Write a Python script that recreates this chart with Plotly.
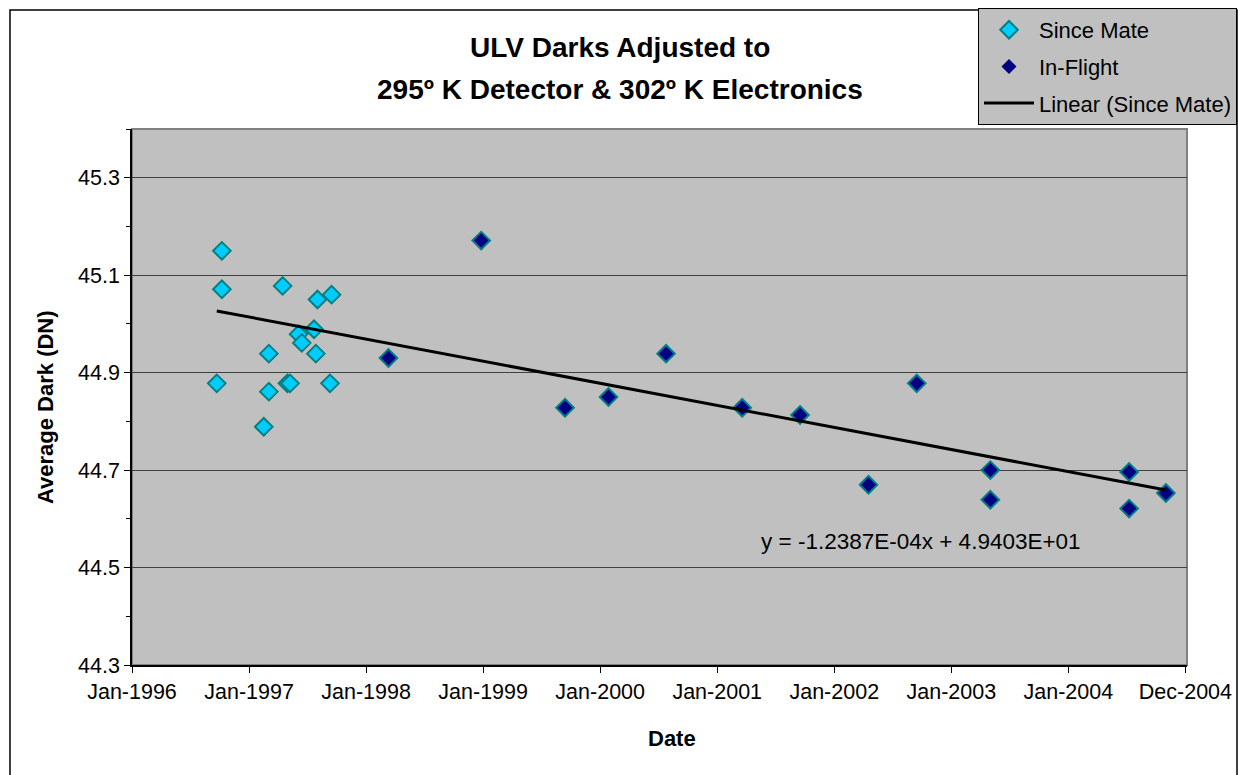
import plotly.graph_objects as go
from datetime import date, datetime

# ---------------- data ----------------
ground_dates = ["1996-09-22", "1996-10-08", "1996-10-08", "1997-02-16", "1997-03-04",
                "1997-03-04", "1997-04-16", "1997-05-01", "1997-05-09", "1997-06-05",
                "1997-06-15", "1997-07-23", "1997-07-29", "1997-08-03", "1997-09-11",
                "1997-09-16"]
ground_vals = [44.878, 45.150, 45.071, 44.789, 44.861,
               44.939, 45.078, 44.878, 44.878, 44.979,
               44.961, 44.989, 44.939, 45.050, 44.878,
               45.060]

flight_dates = ["1998-03-13", "1998-12-28", "1999-09-16", "2000-01-30", "2000-07-28",
                "2001-03-23", "2001-09-20", "2002-04-22", "2002-09-20", "2003-05-08",
                "2003-05-08", "2004-07-15", "2004-07-15", "2004-11-07"]
flight_vals = [44.930, 45.171, 44.828, 44.850, 44.939,
               44.828, 44.813, 44.670, 44.878, 44.700,
               44.639, 44.696, 44.621, 44.653]

# Excel trendline (x = Excel serial date)
trend_slope = -1.2387e-04
trend_intercept = 4.9403e+01
trend_label = "y = -1.2387E-04x + 4.9403E+01"

x_tick_dates = ["1996-01-01", "1997-01-01", "1998-01-02", "1999-01-03", "2000-01-04",
                "2001-01-04", "2002-01-05", "2003-01-06", "2004-01-07", "2005-01-07"]
x_tick_labels = ["Jan-1996", "Jan-1997", "Jan-1998", "Jan-1999", "Jan-2000",
                 "Jan-2001", "Jan-2002", "Jan-2003", "Jan-2004", "Dec-2004"]
y_tick_vals = [44.3, 44.5, 44.7, 44.9, 45.1, 45.3]
y_minor_vals = [44.4, 44.6, 44.8, 45.0, 45.2, 45.4]

title_line1 = "ULV Darks Adjusted to"
title_line2 = "295º K Detector & 302º K Electronics"

# ---------------- derived ----------------
since_dates = ground_dates + flight_dates
since_vals = ground_vals + flight_vals

EXCEL_EPOCH = date(1899, 12, 30)
def serial(d):
    return (datetime.strptime(d, "%Y-%m-%d").date() - EXCEL_EPOCH).days

d_first = min(since_dates)
d_last = max(since_dates)
trend_x = [d_first, d_last]
trend_y = [trend_intercept + trend_slope * serial(d) for d in trend_x]

# ---------------- layout geometry ----------------
W, H = 1238, 775
L, R, T, B = 132, 51, 129, 110
pw, ph = W - L - R, H - T - B

def px(xp):
    return (xp - L) / pw

def py(yp):
    return (H - B - yp) / ph

FONT = "Arial, Liberation Sans, sans-serif"
FS = 21.5

fig = go.Figure()

fig.add_trace(go.Scatter(
    x=since_dates, y=since_vals, mode="markers", name="Since Mate",
    legendgroup="a",
    marker=dict(symbol="diamond", size=13.5, color="#00CCFF",
                line=dict(color="#008080", width=2)),
))
fig.add_trace(go.Scatter(
    x=flight_dates, y=flight_vals, mode="markers", name="In-Flight",
    legendgroup="b",
    marker=dict(symbol="diamond", size=11.5, color="#000080",
                line=dict(width=0)),
))
fig.add_trace(go.Scatter(
    x=trend_x, y=trend_y, mode="lines", name="Linear (Since Mate)",
    legendgroup="c",
    line=dict(color="black", width=3),
))

fig.update_layout(
    width=W, height=H, autosize=False,
    margin=dict(l=L, r=R, t=T, b=B, autoexpand=False),
    paper_bgcolor="white",
    plot_bgcolor="#C0C0C0",
    font=dict(family=FONT, size=FS, color="black"),
    showlegend=True,
    legend=dict(
        x=px(1237), xanchor="right", y=py(8), yanchor="top",
        bgcolor="#C0C0C0", bordercolor="black", borderwidth=1,
        font=dict(family=FONT, size=22, color="black"),
        tracegroupgap=5, itemwidth=50,
    ),
    xaxis=dict(
        type="date",
        range=["1996-01-01", "2005-01-12"],
        tickmode="array", tickvals=x_tick_dates, ticktext=x_tick_labels,
        ticks="outside", ticklen=6, tickcolor="black",
        showline=True, linecolor="black", linewidth=1.5,
        showgrid=False, zeroline=False, automargin=False,
        tickfont=dict(family=FONT, size=FS),
    ),
    yaxis=dict(
        range=[44.3, 45.4],
        tickmode="array", tickvals=y_tick_vals,
        ticktext=[f"{v:.1f}" for v in y_tick_vals],
        ticks="outside", ticklen=6, tickcolor="black",
        showline=True, linecolor="black", linewidth=1.5,
        showgrid=True, gridcolor="#404040", gridwidth=1,
        zeroline=False, automargin=False,
        minor=dict(tickvals=y_minor_vals, ticks="outside", ticklen=4,
                   tickcolor="black", showgrid=False),
        tickfont=dict(family=FONT, size=FS),
    ),
    shapes=[
        # plot area border (top/right grey)
        dict(type="rect", xref="paper", yref="paper", x0=0, x1=1, y0=0, y1=1,
             line=dict(color="#808080", width=2), layer="below"),
        # outer chart frame
        dict(type="rect", xref="paper", yref="paper",
             x0=px(10), x1=px(1237), y0=py(10), y1=py(790),
             line=dict(color="black", width=1.5), layer="below"),
    ],
    annotations=[
        dict(text=f"<b>{title_line1}</b>", xref="paper", yref="paper",
             x=px(620), y=py(48), xanchor="center", yanchor="middle",
             showarrow=False, font=dict(family=FONT, size=28)),
        dict(text=f"<b>{title_line2}</b>", xref="paper", yref="paper",
             x=px(620), y=py(89), xanchor="center", yanchor="middle",
             showarrow=False, font=dict(family=FONT, size=28)),
        dict(text=trend_label, xref="paper", yref="paper",
             x=px(921), y=py(541), xanchor="center", yanchor="middle",
             showarrow=False, font=dict(family=FONT, size=22.5)),
        dict(text="<b>Date</b>", xref="paper", yref="paper",
             x=px(672), y=py(738), xanchor="center", yanchor="middle",
             showarrow=False, font=dict(family=FONT, size=22)),
        dict(text="<b>Average Dark (DN)</b>", xref="paper", yref="paper",
             x=px(45), y=py(407), xanchor="center", yanchor="middle",
             textangle=-90, showarrow=False, font=dict(family=FONT, size=22)),
    ],
)

fig.write_html(
    "out.html",
    config={"responsive": False, "displayModeBar": False},
    default_width=f"{W}px", default_height=f"{H}px",
    post_script="document.body.style.margin='0';document.body.style.padding='0';document.body.style.overflow='hidden';",
)
